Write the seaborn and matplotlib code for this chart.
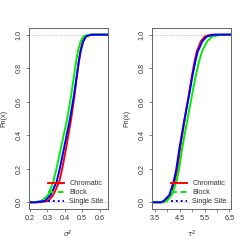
import numpy as np
import pandas as pd
import seaborn as sns
import matplotlib
matplotlib.use("Agg")
import matplotlib.pyplot as plt
from matplotlib.lines import Line2D

# ECDF levels and the x value (quantile) for each series
F_levels = [0.0, 0.0, 0.008, 0.044, 0.123, 0.2, 0.32, 0.5, 0.64, 0.75, 0.84, 0.9, 0.96, 0.99, 1.0, 1.0]

sigma_chromatic = [0.19, 0.25, 0.305, 0.334, 0.368, 0.385, 0.407, 0.437, 0.456, 0.469, 0.480, 0.489, 0.503, 0.520, 0.55, 0.65]
sigma_block     = [0.19, 0.22, 0.267, 0.305, 0.334, 0.352, 0.377, 0.414, 0.437, 0.452, 0.465, 0.475, 0.491, 0.508, 0.54, 0.65]
sigma_single    = [0.19, 0.23, 0.286, 0.319, 0.353, 0.371, 0.395, 0.430, 0.453, 0.468, 0.481, 0.491, 0.506, 0.523, 0.555, 0.65]

tau_chromatic = [3.37, 3.80, 3.93, 4.13, 4.30, 4.41, 4.52, 4.71, 4.87, 4.99, 5.10, 5.19, 5.35, 5.52, 5.75, 6.56]
tau_block     = [3.37, 3.85, 3.99, 4.19, 4.37, 4.48, 4.60, 4.82, 5.00, 5.14, 5.28, 5.40, 5.60, 5.82, 6.20, 6.56]
tau_single    = [3.37, 3.75, 3.86, 4.09, 4.26, 4.37, 4.49, 4.70, 4.88, 5.01, 5.13, 5.23, 5.41, 5.60, 5.90, 6.56]

methods = ["Chromatic", "Block", "Single Site"]
colors = {"Chromatic": "#FF0000", "Block": "#00EE00", "Single Site": "#0000FF"}
legend_styles = {"Chromatic": "-", "Block": (0, (3, 2)), "Single Site": (0, (1, 1.5))}

sigma_ticks = [0.2, 0.3, 0.4, 0.5, 0.6]
tau_ticks = [3.5, 4.0, 4.5, 5.0, 5.5, 6.0, 6.5]
tau_labels = ["3.5", "", "4.5", "", "5.5", "", "6.5"]
y_ticks = [0.0, 0.2, 0.4, 0.6, 0.8, 1.0]


def make_df(series):
    rows = []
    for m, xs in zip(methods, series):
        for i, (x, f) in enumerate(zip(xs, F_levels)):
            rows.append({"x": x, "F": f, "method": m, "order": i})
    return pd.DataFrame(rows)


df_sigma = make_df([sigma_chromatic, sigma_block, sigma_single])
df_tau = make_df([tau_chromatic, tau_block, tau_single])

plt.rcParams["font.family"] = ["Liberation Sans", "DejaVu Sans"]
fig = plt.figure(figsize=(2.45, 2.45), dpi=100)
fig.patch.set_facecolor("white")

ax1 = fig.add_axes([28.7 / 245, 36 / 245, 79 / 245, 180.7 / 245])
ax2 = fig.add_axes([151.7 / 245, 36 / 245, 79 / 245, 180.7 / 245])

fs = 5.2

for ax, df, xlim, ticks, labels, xlabel in [
    (ax1, df_sigma, (0.1925, 0.6466), sigma_ticks, [f"{t:.1f}" for t in sigma_ticks], r"$\sigma^2$"),
    (ax2, df_tau, (3.38, 6.55), tau_ticks, tau_labels, r"$\tau^2$"),
]:
    ax.axhline(0, color="#BBBBBB", lw=0.7, ls=(0, (1, 1.5)), zorder=1)
    ax.axhline(1, color="#BBBBBB", lw=0.7, ls=(0, (1, 1.5)), zorder=1)
    sns.lineplot(data=df, x="x", y="F", hue="method", palette=colors,
                 hue_order=methods, sort=False, estimator=None, units="method",
                 lw=1.4, ax=ax, legend=False, solid_joinstyle="round")
    ax.set_xlim(*xlim)
    ax.set_ylim(-0.04, 1.038)
    ax.set_xticks(ticks)
    ax.set_xticklabels(labels, fontsize=fs, color="#333333")
    ax.set_yticks(y_ticks)
    ax.set_yticklabels([f"{t:.1f}" for t in y_ticks], fontsize=fs, rotation=90,
                       va="center", color="#333333")
    ax.tick_params(length=2.5, width=0.5, pad=2, colors="#555555", labelcolor="#333333")
    for sp in ax.spines.values():
        sp.set_linewidth(0.7)
        sp.set_color("#666666")
    ax.set_xlabel(xlabel, fontsize=fs, labelpad=5, color="#333333")
    ax.set_ylabel("Fn(x)", fontsize=fs, labelpad=6, color="#333333")
    handles = [Line2D([0], [0], color=colors[m], lw=1.4, ls=legend_styles[m]) for m in methods]
    leg = ax.legend(handles, methods, loc="lower right", frameon=False, fontsize=fs,
                    handlelength=2.2, handletextpad=0.8, labelspacing=0.25,
                    borderaxespad=0.15, bbox_to_anchor=(1.0, 0.0))
    for t in leg.get_texts():
        t.set_color("#333333")

fig.savefig("out.png", dpi=100, facecolor="white")
